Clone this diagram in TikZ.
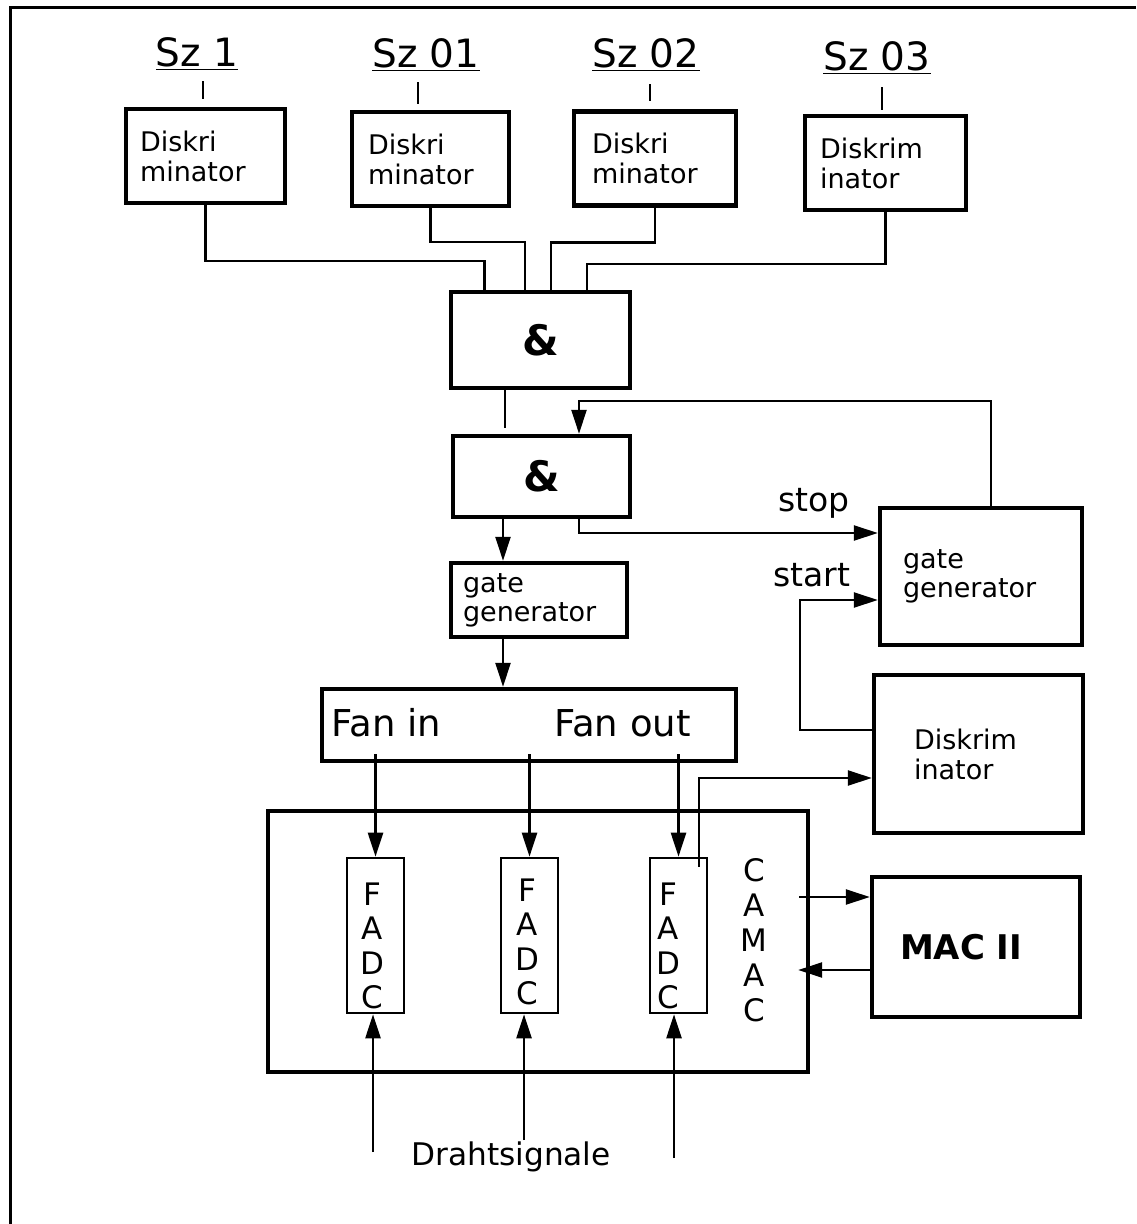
\documentclass[tikz,border=0pt]{standalone}
\usepackage{fontspec}
\setmainfont{DejaVu Sans}
\usetikzlibrary{arrows.meta,calc}

\tikzset{
  blk/.style={draw, line width=2.2pt, inner sep=0pt},
  txtbox/.style={draw, line width=2.2pt, align=left, inner ysep=0pt,
    minimum height=47pt, font=\fontsize{13.5}{15}\selectfont},
  adc/.style={draw, line width=1.3pt, inner sep=0pt, minimum width=28.5pt, minimum height=77.5pt},
  vlet/.style={align=center, inner sep=0pt, font=\fontsize{15.5}{17.2}\selectfont},
  lbl/.style={inner sep=0pt, font=\fontsize{16.5}{18}\selectfont},
  wire/.style={line width=1.2pt},
  arr/.style={wire, -{Triangle[length=12pt,width=7.5pt]}},
}

\begin{document}
\begin{tikzpicture}[x=0.5pt, y=-0.5pt]
  \useasboundingbox (0,0) rectangle (1136,1224);
  \draw[line width=1.5pt] (10,1224) -- (10,8) -- (1136,8);

  % scintillators and discriminators
  \node[inner sep=1pt, font=\fontsize{19.5}{22}\selectfont] (sz1) at (197,54) {\underline{Sz 1}};
  \node[inner sep=1pt, font=\fontsize{19.5}{22}\selectfont] (sz01) at (426,55) {\underline{Sz 01}};
  \node[inner sep=1pt, font=\fontsize{19.5}{22}\selectfont] (sz02) at (646,55) {\underline{Sz 02}};
  \node[inner sep=1pt, font=\fontsize{19.5}{22}\selectfont] (sz03) at (877,58) {\underline{Sz 03}};
  \node[txtbox, inner xsep=7pt, text width=65.5pt] (d1) at (205.5,156) {Diskri\\minator};
  \node[txtbox, inner xsep=8pt, text width=62.5pt] (d2) at (430.5,159) {Diskri\\minator};
  \node[txtbox, inner xsep=9pt, text width=63pt] (d3) at (655,158.5) {Diskri\\minator};
  \node[txtbox, inner xsep=7.5pt, text width=65.5pt] (d4) at (885.5,163) {Diskrim\\inator};
  \draw[wire, shorten <=4pt, shorten >=4pt] ([xshift=3pt]sz1.south) -- ([xshift=3pt]sz1.south |- d1.north);
  \draw[wire, shorten <=4pt, shorten >=3pt] ([xshift=-4pt]sz01.south) -- ([xshift=-4pt]sz01.south |- d2.north);
  \draw[wire, shorten <=5pt, shorten >=4pt] ([xshift=2pt]sz02.south) -- ([xshift=2pt]sz02.south |- d3.north);
  \draw[wire, shorten <=5pt, shorten >=2pt] ([xshift=2.5pt]sz03.south) -- ([xshift=2.5pt]sz03.south |- d4.north);

  % coincidence
  \node[blk, minimum width=89.5pt, minimum height=48pt, font=\bfseries\fontsize{21}{22}\selectfont] (and1) at (540.5,340) {\&};
  \node[blk, minimum width=88.5pt, minimum height=40.5pt, font=\bfseries\fontsize{21}{22}\selectfont] (and2) at (541.5,476.5) {\&};
  \draw[wire] (d1.south) -- ++(0,56) -| ($(and1.north)+(-56,0)$);
  \draw[wire] (d2.south) -- ++(0,34) -| ($(and1.north)+(-15.5,0)$);
  \draw[wire] (d3.south) -- ++(0,35) -| ($(and1.north)+(10.5,0)$);
  \draw[wire] (d4.south) -- ++(0,52) -| ($(and1.north)+(46.5,0)$);
  \draw[wire, shorten >=3pt] ($(and1.south)+(-35.5,0)$) -- ($(and2.north)+(-36.5,0)$);

  % gate generators
  \node[txtbox, minimum height=37pt, inner xsep=6pt, text width=76pt,
    font=\fontsize{13.5}{14.5}\selectfont] (gg1) at (539,600) {gate\\generator};
  \node[txtbox, minimum height=68.5pt, inner xsep=11.5pt, text width=78pt,
    font=\fontsize{13.5}{14.5}\selectfont] (gg2) at (981,576.5) {gate\\generator};
  \node[txtbox, minimum height=79pt, inner xsep=20pt, text width=64.5pt] (dk5) at (978.5,754) {Diskrim\\inator};
  \node[lbl] (stop) at (814,503) {stop};
  \node[lbl] (start) at (812,575) {start};
  \draw[arr] ($(gg2.north)+(10,0)$) -- ++(0,-105) -| ($(and2.north)+(37.5,0)$);
  \draw[arr] ($(and2.south)+(-38.5,0)$) -- ($(gg1.north)+(-36,0)$);
  \draw[arr] ($(and2.south)+(37.5,0)$) |- ($(gg2.west)+(0,-43.5)$);
  \draw[arr] ($(dk5.west)+(0,-24)$) -- ++(-72,0) |- ($(gg2.west)+(0,23.5)$);

  % fan in / fan out
  \node[blk, minimum width=207pt, minimum height=36pt] (fan) at (529,725) {};
  \node[inner sep=0pt, font=\fontsize{18.5}{20}\selectfont] (fanin) at (386.5,723) {Fan in};
  \node[inner sep=0pt, font=\fontsize{18.5}{20}\selectfont] (fanout) at (622.5,723) {Fan out};
  \draw[arr] ($(gg1.south)+(-36,0)$) -- ($(fan.north)+(-26,0)$);

  % CAMAC crate
  \node[blk, minimum width=270pt, minimum height=130.5pt] (camac) at (538,941.5) {};
  \node[adc] (fadc1) at (375.5,935.5) {};
  \node[adc] (fadc2) at (529.5,935.5) {};
  \node[adc] (fadc3) at (678.5,935.5) {};
  \node[vlet] (fadc1t) at (372,946) {F\\A\\D\\C};
  \node[vlet] (fadc2t) at (527,942) {F\\A\\D\\C};
  \node[vlet] (fadc3t) at (668,946) {F\\A\\D\\C};
  \node[vlet, font=\fontsize{15.5}{17.5}\selectfont] (camact) at (754,940) {C\\A\\M\\A\\C};
  \node[blk, minimum width=104pt, minimum height=70pt, inner xsep=14pt, text width=76pt,
    align=left, font=\bfseries\fontsize{17}{19}\selectfont] (mac) at (976,947) {MAC II};
  \draw[arr] ($(fadc1.north |- fan.south)+(0,-9)$) -- (fadc1.north);
  \draw[arr] ($(fadc2.north |- fan.south)+(0,-9)$) -- (fadc2.north);
  \draw[arr] ($(fadc3.north |- fan.south)+(0,-9)$) -- (fadc3.north);
  \draw[arr] ($(fadc3.north)+(20.5,10)$) |- ($(dk5.west)+(0,24)$);
  \draw[arr] ($(camac.east |- mac.west)+(-11,-50)$) -- ($(mac.west)+(0,-50)$);
  \draw[arr] ($(mac.west)+(0,23)$) -- ($(camac.east |- mac.west)+(-12,23)$);

  % wire signals
  \coordinate (w1) at (373,1152);
  \coordinate (w2) at (524,1140);
  \coordinate (w3) at (674,1158);
  \node[inner sep=0pt, font=\fontsize{15.6}{17}\selectfont] (draht) at (511,1157) {Drahtsignale};
  \draw[arr] (w1) -- (w1 |- fadc1.south);
  \draw[arr] (w2) -- (w2 |- fadc2.south);
  \draw[arr] (w3) -- (w3 |- fadc3.south);
\end{tikzpicture}
\end{document}
